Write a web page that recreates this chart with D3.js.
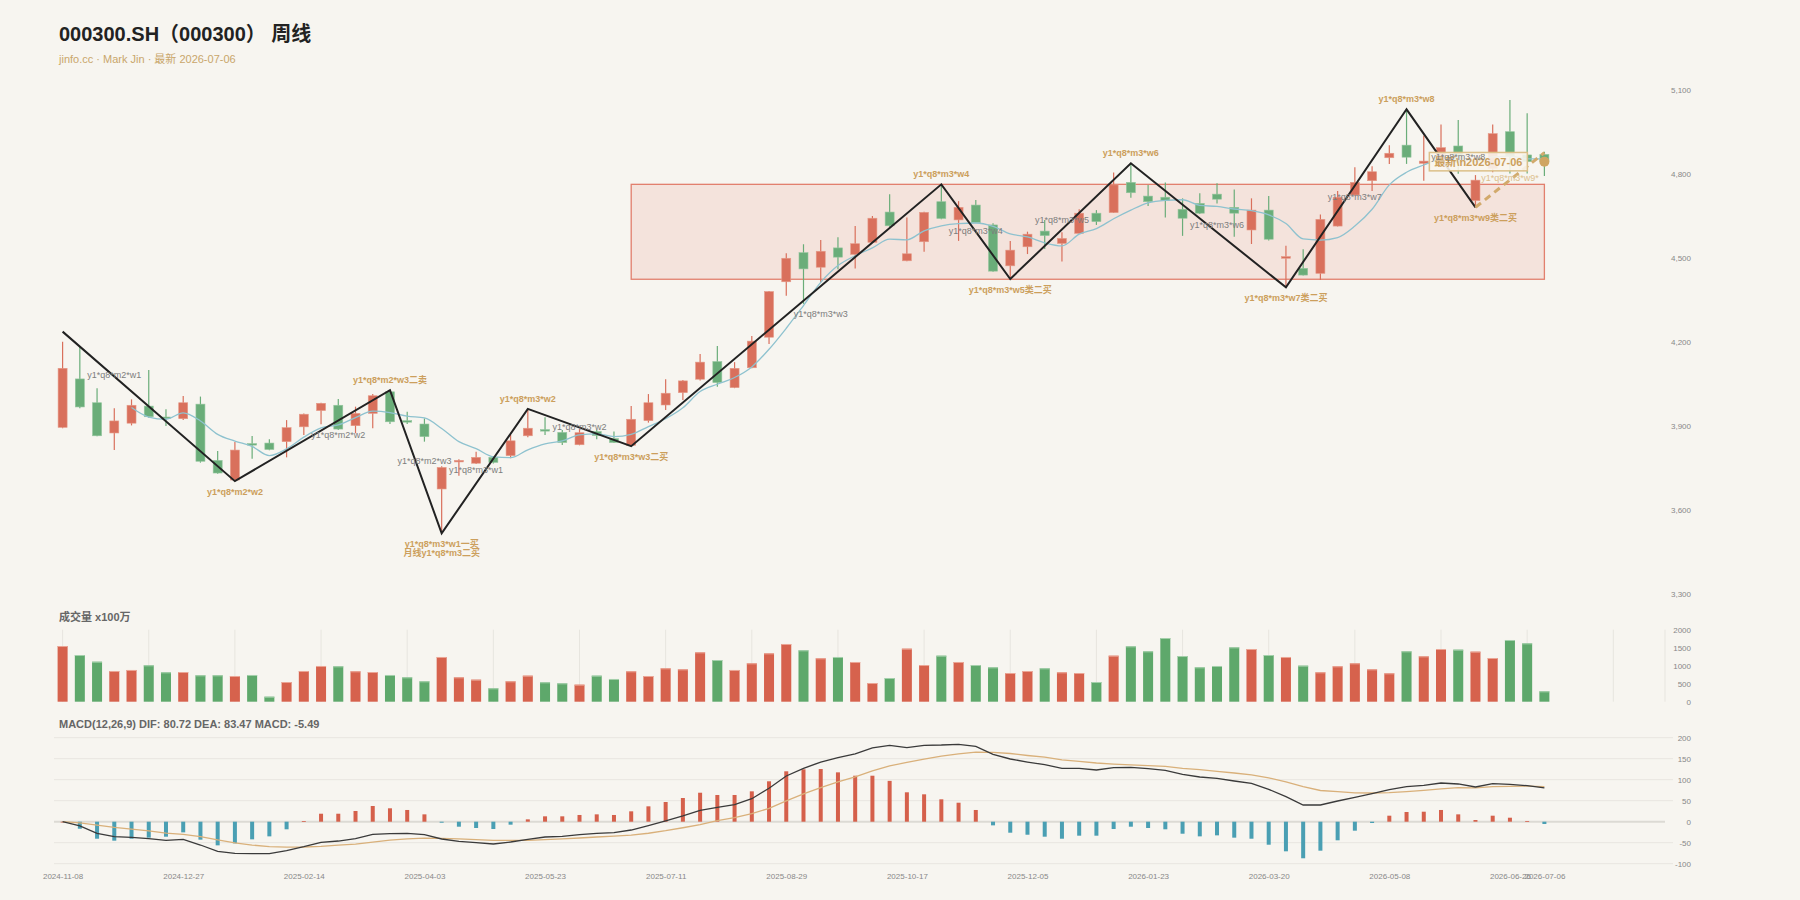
<!DOCTYPE html>
<html><head><meta charset="utf-8">
<script src="https://cdn.jsdelivr.net/npm/d3@7/dist/d3.min.js"></script>
<style>
html,body{margin:0;padding:0;background:#f7f5f0;}
svg{display:block;}
</style></head>
<body><svg id="c" width="1800" height="900"></svg>
<script>
const dates=["2024-11-08","2024-11-15","2024-11-22","2024-11-29","2024-12-06","2024-12-13","2024-12-20","2024-12-27","2025-01-03","2025-01-10","2025-01-17","2025-01-24","2025-01-27","2025-02-07","2025-02-14","2025-02-21","2025-02-28","2025-03-07","2025-03-14","2025-03-21","2025-03-28","2025-04-03","2025-04-11","2025-04-18","2025-04-25","2025-04-30","2025-05-09","2025-05-16","2025-05-23","2025-05-30","2025-06-06","2025-06-13","2025-06-20","2025-06-27","2025-07-04","2025-07-11","2025-07-18","2025-07-25","2025-08-01","2025-08-08","2025-08-15","2025-08-22","2025-08-29","2025-09-05","2025-09-12","2025-09-19","2025-09-26","2025-09-30","2025-10-10","2025-10-17","2025-10-24","2025-10-31","2025-11-07","2025-11-14","2025-11-21","2025-11-28","2025-12-05","2025-12-12","2025-12-19","2025-12-26","2025-12-31","2026-01-09","2026-01-16","2026-01-23","2026-01-30","2026-02-06","2026-02-13","2026-02-27","2026-03-06","2026-03-13","2026-03-20","2026-03-27","2026-04-03","2026-04-10","2026-04-17","2026-04-24","2026-04-30","2026-05-08","2026-05-15","2026-05-22","2026-05-29","2026-06-05","2026-06-12","2026-06-19","2026-06-26","2026-07-03","2026-07-06"];
const opens=[3894,4067,3982,3874,3909,3970,3931,3925,3977,3776,3706,3836,3838,3843,3896,3954,3973,3900,3944,4021,3918,3906,3674,3772,3766,3787,3793,3864,3886,3876,3832,3879,3854,3830,3918,3974,4018,4066,4129,4036,4107,4216,4414,4518,4466,4535,4512,4555,4663,4489,4557,4700,4635,4688,4617,4471,4539,4595,4551,4587,4659,4661,4769,4720,4716,4673,4694,4727,4680,4599,4670,4498,4462,4444,4613,4724,4775,4857,4902,4837,4846,4899,4704,4819,4950,4867,4869];
const highs=[4200,4182,4034,3962,3994,4099,3959,4006,4004,3810,3842,3863,3852,3920,3944,3982,3995,3968,4013,4027,3950,3926,3755,3780,3807,3790,3867,3960,3930,3885,3888,3885,3879,3970,4013,4066,4063,4156,4185,4127,4220,4381,4516,4548,4563,4573,4613,4649,4727,4644,4664,4762,4702,4706,4623,4560,4593,4635,4591,4673,4670,4804,4837,4760,4769,4712,4730,4766,4744,4712,4720,4543,4530,4654,4738,4823,4827,4902,5030,4936,4976,4992,4795,4976,5063,5016,4878];
const lows=[3891,3962,3862,3813,3901,3928,3899,3920,3768,3728,3702,3782,3812,3787,3867,3905,3885,3873,3891,3906,3906,3843,3516,3721,3763,3765,3784,3859,3867,3831,3830,3852,3838,3827,3911,3956,3992,4061,4039,4034,4105,4192,4364,4335,4411,4459,4461,4553,4609,4487,4521,4637,4560,4623,4450,4424,4513,4531,4486,4585,4617,4660,4714,4685,4644,4578,4656,4694,4575,4549,4561,4394,4436,4420,4611,4721,4738,4835,4835,4775,4830,4800,4680,4805,4801,4801,4792];
const closes=[4105,3967,3864,3917,3973,3932,3927,3982,3773,3731,3813,3832,3815,3893,3941,3980,3888,3944,4007,3914,3915,3861,3751,3776,3787,3769,3846,3891,3883,3840,3875,3865,3840,3923,3982,4016,4060,4127,4054,4105,4202,4379,4498,4460,4523,4502,4550,4641,4614,4514,4662,4640,4680,4625,4452,4527,4584,4579,4569,4659,4629,4760,4732,4700,4704,4641,4659,4709,4659,4670,4566,4504,4438,4637,4716,4769,4807,4873,4859,4845,4893,4840,4777,4943,4861,4843,4843];
const ma5=[null,null,null,null,3965,3931,3923,3946,3917,3869,3845,3826,3793,3817,3859,3892,3903,3929,3952,3947,3934,3928,3890,3843,3818,3789,3786,3814,3835,3846,3867,3871,3861,3869,3897,3925,3964,4022,4048,4072,4110,4173,4248,4329,4412,4472,4507,4535,4566,4564,4596,4614,4622,4624,4612,4585,4574,4553,4542,4584,4604,4639,4670,4696,4705,4707,4687,4683,4674,4668,4653,4622,4567,4563,4572,4613,4673,4760,4805,4831,4855,4862,4843,4860,4863,4853,4853];
const volumes=[1547,1297,1111,853,881,1011,816,825,733,733,714,742,139,547,853,992,983,844,825,742,677,566,1242,677,612,372,566,723,538,510,473,723,631,844,714,927,899,1371,1158,881,1066,1343,1603,1427,1205,1242,1103,519,658,1473,1019,1278,1103,1019,955,797,853,927,816,797,547,1278,1538,1399,1769,1269,955,992,1510,1464,1297,1242,1001,816,983,1066,899,788,1399,1260,1464,1445,1390,1214,1714,1621,288];
const dif=[0,-10.2,-27.7,-35.7,-37.3,-40.5,-44.3,-42,-55.5,-70.6,-75.4,-76.2,-76.2,-69,-59.5,-49,-46,-40.5,-30,-28.6,-27.7,-31,-41.2,-46.7,-50,-53.1,-48.3,-42,-36.4,-34.9,-31,-27.7,-26.2,-19.8,-9.5,1.7,13.6,27.1,34.3,40.5,54.8,79.5,108.8,127.1,142.1,152.4,161.7,175.8,181.9,176.2,181.9,182.6,184.3,179.5,160.5,149.3,142.1,135.7,127.1,127.1,123.1,128.6,129.5,126.2,122.4,112.9,106.4,103.3,96.9,91.4,77.1,59.5,39.8,39.8,49.3,58.1,66.7,76.2,83.3,86.7,92.1,89.8,82.6,90.5,89,85.7,80.72];
const dea=[0,-3,-8,-13.3,-17.5,-22,-27,-30,-35.5,-43.5,-50.5,-55.7,-59.5,-60.5,-60.2,-58.6,-56,-53.2,-48.5,-44,-41,-39,-39.5,-40.7,-42.6,-44.3,-44.6,-44.5,-42.5,-40.8,-38.8,-36.4,-34.4,-31.8,-27.5,-21.5,-14.4,-7,2.8,9.5,19,31.8,49.5,66,81,95,107,121,133,141,149,156,161.7,165.5,164.9,162.4,157.6,153.6,147.4,143.8,139.8,137.3,135.5,133.7,131.5,127.2,123.9,119.6,115.9,111.7,104.5,94.8,83.4,74.3,71.5,68.8,68.3,69,71.8,74.8,78.2,81,80.6,83.4,84.3,84.9,83.47];
const macdHist=[0,-16.7,-40.5,-45.2,-40.5,-38,-35.7,-25.4,-42.8,-56.3,-51.6,-42,-34.9,-18.1,1.5,19,19,25.5,37.4,31.9,27.9,17.5,-2.4,-11.9,-15,-17.4,-7.1,5.6,12.8,12.8,16,17.5,16,24.7,36.6,46.9,56.4,69,63.6,63.6,72.3,96.2,120,124.7,125.4,117.5,109.5,109.5,97.2,70,65.2,53.3,45.2,27.9,-8.7,-26.2,-31,-35.7,-40.5,-33.3,-33.3,-17.4,-11.9,-15,-18.1,-28.6,-34.9,-32.5,-38,-40.5,-54.8,-70.5,-87.1,-69,-44.3,-21.4,-3.1,14.3,23.1,23.8,27.9,17.5,4,14.3,9.5,1.7,-5.49];
// zigzag pivots [index, price]
const strokePivots=[[0,4236],[10,3702],[19,4027],[22,3516],[27,3960],[33,3827],[51,4762],[55,4424],[62,4837],[71,4394],[78,5030],[82,4680]];
const pendingStroke=[[82,4680],[86,4875]];
// central zone [startIndex, endIndex, low, high]
const zone=[33,86,4423,4762];
// key pivot labels: index, price, side, lines
const keyLabels=[
 [10,3702,"below",["y1*q8*m2*w2"]],
 [19,4027,"above",["y1*q8*m2*w3二卖"]],
 [22,3516,"below",["y1*q8*m3*w1一买","月线y1*q8*m3二买"]],
 [27,3960,"above",["y1*q8*m3*w2"]],
 [33,3827,"below",["y1*q8*m3*w3二买"]],
 [51,4762,"above",["y1*q8*m3*w4"]],
 [55,4424,"below",["y1*q8*m3*w5类二买"]],
 [62,4837,"above",["y1*q8*m3*w6"]],
 [71,4394,"below",["y1*q8*m3*w7类二买"]],
 [78,5030,"above",["y1*q8*m3*w8"]],
 [82,4680,"below",["y1*q8*m3*w9类二买"]]
];
// secondary labels: index, price, text
const subLabels=[
 [3,4081,"y1*q8*m2*w1"],[16,3867,"y1*q8*m2*w2"],[21,3774,"y1*q8*m2*w3"],[24,3742,"y1*q8*m3*w1"],
 [30,3896,"y1*q8*m3*w2"],[44,4299,"y1*q8*m3*w3"],[53,4595,"y1*q8*m3*w4"],[58,4635,"y1*q8*m3*w5"],
 [67,4619,"y1*q8*m3*w6"],[75,4716,"y1*q8*m3*w7"],[81,4861,"y1*q8*m3*w8"]
];
const pendingLabel=[84,4784,"y1*q8*m3*w9*"];
const priceTicks=[3300,3600,3900,4200,4500,4800,5100];
const volTicks=[0,500,1000,1500,2000];
const macdTicks=[-100,-50,0,50,100,150,200];
const dateTickIdx=[0,7,14,21,28,35,42,49,56,63,70,77,84,86];
const titleText="000300.SH（000300） 周线";
const subtitleText="jinfo.cc · Mark Jin · 最新 2026-07-06";
const macdTitle="MACD(12,26,9) DIF: 80.72 DEA: 83.47 MACD: -5.49";
const volTitle="成交量 x100万";
const latestText="最新\\n2026-07-06";

const FONT='"Liberation Sans", Arial, Helvetica, "Noto Sans CJK SC", sans-serif';
const UP="#d9705c", DOWN="#6aad79", VUP="#d6624d", VDOWN="#5ea86b";
const TAN="#cc9f5c";
const svg=d3.select("#c").style("font-family",FONT);
svg.append("rect").attr("width",1800).attr("height",900).attr("fill","#f7f5f0");

const N=94;
const x=d3.scalePoint().domain(d3.range(N)).range([62.6,1665]);
const yP=d3.scaleLinear().domain([3300,5100]).range([593.7,89.7]);
const yV=d3.scaleLinear().domain([0,2000]).range([701.7,629.7]);
const yM=d3.scaleLinear().domain([-100,200]).range([863.7,737.7]);

// title
svg.append("text").attr("x",59).attr("y",40.5).attr("font-size",20).attr("font-weight","bold").attr("fill","#222").text(titleText);
svg.append("text").attr("x",59).attr("y",63).attr("font-size",11).attr("fill","#c9a66b").text(subtitleText);

function styleAxis(g){g.select(".domain").remove();g.selectAll("text").attr("fill","#888").attr("font-size",8).attr("font-family",FONT);}
const plain=d=>String(d);
svg.append("g").attr("transform","translate(1691,0)")
  .call(d3.axisLeft(yP).tickValues(priceTicks).tickSize(0).tickPadding(0).tickFormat(d3.format(","))).call(styleAxis);

// zone
svg.append("rect").attr("x",x(zone[0])).attr("y",yP(zone[3])).attr("width",x(zone[1])-x(zone[0])).attr("height",yP(zone[2])-yP(zone[3]))
  .attr("fill","rgba(226,120,100,0.14)").attr("stroke","rgba(222,108,88,0.85)").attr("stroke-width",1.3);

// candles
const cw=9;
const cg=svg.append("g");
d3.range(closes.length).forEach(i=>{
  const up=closes[i]>=opens[i]; const col=up?UP:DOWN;
  cg.append("line").attr("x1",x(i)).attr("x2",x(i)).attr("y1",yP(highs[i])).attr("y2",yP(lows[i])).attr("stroke",col).attr("stroke-width",1.2);
  const t=yP(Math.max(opens[i],closes[i])), b=yP(Math.min(opens[i],closes[i]));
  cg.append("rect").attr("x",x(i)-cw/2).attr("y",t).attr("width",cw).attr("height",Math.max(1.5,b-t))
    .attr("fill",col).attr("stroke",up?"#e59a88":"#94c69e").attr("stroke-width",0.6);
});

// MA
svg.append("path").datum(ma5.map((v,i)=>[i,v]).filter(d=>d[1]!=null))
  .attr("d",d3.line().x(d=>x(d[0])).y(d=>yP(d[1])).curve(d3.curveMonotoneX))
  .attr("fill","none").attr("stroke","#8ec2cf").attr("stroke-width",1.3);

// zigzag
svg.append("path").datum(strokePivots).attr("d",d3.line().x(d=>x(d[0])).y(d=>yP(d[1])))
  .attr("fill","none").attr("stroke","#222").attr("stroke-width",2);
svg.append("path").datum(pendingStroke).attr("d",d3.line().x(d=>x(d[0])).y(d=>yP(d[1])))
  .attr("fill","none").attr("stroke","#d2aa6c").attr("stroke-width",3).attr("stroke-dasharray","7,5");

// latest box
const li=closes.length-1, lx=x(li), ly=yP(closes[li]);
const lg=svg.append("g");
const lr=lg.append("rect");
const lt=lg.append("text").attr("font-size",11).attr("font-weight","bold").attr("fill",TAN).attr("dy","0.35em").text(latestText);
const tw=lt.node().getComputedTextLength();
const bw=tw+10, bx=lx-17-bw;
lt.attr("x",bx+5).attr("y",ly);
lr.attr("x",bx).attr("y",ly-9.2).attr("width",bw).attr("height",18.4).attr("fill","rgba(249,245,236,0.9)").attr("stroke","#dcc089").attr("stroke-width",1.5);
svg.append("circle").attr("cx",lx).attr("cy",ly).attr("r",5).attr("fill","#cfa562");

// sub labels
subLabels.forEach(d=>{
  svg.append("text").attr("x",x(d[0])).attr("y",yP(d[1])).attr("dy","0.35em").attr("text-anchor","middle")
    .attr("font-size",9).attr("fill","#7d7d7d").text(d[2]);
});
svg.append("text").attr("x",x(pendingLabel[0])).attr("y",yP(pendingLabel[1])).attr("dy","0.35em").attr("text-anchor","middle")
  .attr("font-size",9).attr("fill","#dcc08f").text(pendingLabel[2]);
// key labels
keyLabels.forEach(d=>{
  const py=yP(d[1]);
  d[3].forEach((t,k)=>{
    const yy = d[2]==="above" ? py-10.5 : py+10.7+k*8.8;
    svg.append("text").attr("x",x(d[0])).attr("y",yy).attr("dy","0.35em").attr("text-anchor","middle")
      .attr("font-size",9).attr("font-weight","bold").attr("fill",TAN).text(t);
  });
});

// volume panel
svg.append("text").attr("x",59).attr("y",621).attr("font-size",11).attr("font-weight","bold").attr("fill","#666").text(volTitle);
const vg=svg.append("g");
d3.range(N).filter(i=>i%5===0 && i<=90).concat([93]).forEach(i=>{
  vg.append("line").attr("x1",x(i)).attr("x2",x(i)).attr("y1",yV(2000)).attr("y2",yV(0)).attr("stroke","#e7e5df").attr("stroke-width",1);
});
volumes.forEach((v,i)=>{
  const up=closes[i]>=opens[i];
  vg.append("rect").attr("x",x(i)-5).attr("y",yV(v)).attr("width",10).attr("height",yV(0)-yV(v)).attr("fill",up?VUP:VDOWN);
  vg.append("rect").attr("x",x(i)-5).attr("y",yV(v)).attr("width",10).attr("height",1).attr("fill",up?"#eba696":"#a5d0ac");
});
svg.append("g").attr("transform","translate(1691,0)")
  .call(d3.axisLeft(yV).tickValues(volTicks).tickSize(0).tickPadding(0).tickFormat(plain)).call(styleAxis);

// MACD panel
svg.append("text").attr("x",59).attr("y",728).attr("font-size",11).attr("font-weight","bold").attr("fill","#666").text(macdTitle);
const mg=svg.append("g");
macdTicks.forEach(t=>{
  if(t===0) return;
  mg.append("line").attr("x1",54).attr("x2",1673).attr("y1",yM(t)).attr("y2",yM(t)).attr("stroke","#e8e6e0").attr("stroke-width",1);
});
mg.append("line").attr("x1",54).attr("x2",1665).attr("y1",yM(0)).attr("y2",yM(0)).attr("stroke","#dcdad4").attr("stroke-width",2);
macdHist.forEach((v,i)=>{
  const y0=yM(0), y1=yM(v);
  mg.append("rect").attr("x",x(i)-2).attr("y",Math.min(y0,y1)).attr("width",4).attr("height",Math.max(0.8,Math.abs(y1-y0)))
    .attr("fill",v>=0?"#d5604b":"#4a9fb3");
});
mg.append("path").datum(dea).attr("d",d3.line().x((d,i)=>x(i)).y(d=>yM(d))).attr("fill","none").attr("stroke","#d9b07a").attr("stroke-width",1.3);
mg.append("path").datum(dif).attr("d",d3.line().x((d,i)=>x(i)).y(d=>yM(d))).attr("fill","none").attr("stroke","#3a3a3a").attr("stroke-width",1.3);
svg.append("g").attr("transform","translate(1691,0)")
  .call(d3.axisLeft(yM).tickValues(macdTicks).tickSize(0).tickPadding(0).tickFormat(plain)).call(styleAxis);

// date axis
svg.append("g").attr("transform","translate(0,870.5)")
  .call(d3.axisBottom(x).tickValues(dateTickIdx).tickSize(0).tickPadding(3).tickFormat(i=>dates[i])).call(styleAxis);
</script></body></html>
